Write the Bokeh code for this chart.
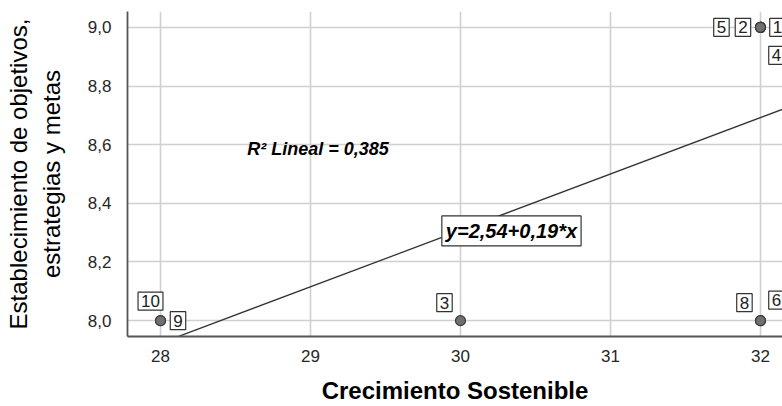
import numpy as np
from bokeh.plotting import figure
from bokeh.models import Label, Range1d, FixedTicker, CustomJSTickFormatter
from bokeh.embed import file_html
from bokeh.resources import INLINE

# ---- data ----
case_ids = ["1", "2", "3", "4", "5", "6", "7", "8", "9", "10"]
crecimiento = [32, 32, 30, 32, 32, 32, 32, 32, 28, 28]
establecimiento = [9, 9, 8, 9, 9, 8, 9, 8, 8, 8]
x_ticks = [28, 29, 30, 31, 32]
y_ticks = [8.0, 8.2, 8.4, 8.6, 8.8, 9.0]
x_title = "Crecimiento Sostenible"
y_title = "Establecimiento de objetivos,\nestrategias y metas"

# label placement (screen pixel offsets from each point); case 7 label is hidden
label_offsets = {
    "1": (17, 0), "2": (-17.5, 0), "3": (-16, 18), "4": (16, -28),
    "5": (-39, 0), "6": (16, 20.5), "8": (-16, 18), "9": (17.5, 0),
    "10": (-10, 19.5),
}

FONT = "Liberation Sans"

x0, x1 = 27.78, 32.147
y0, y1 = 7.946, 9.054

p = figure(width=782, height=406, output_backend="svg", toolbar_location=None,
           x_range=Range1d(x0, x1), y_range=Range1d(y0, y1),
           min_border_left=127, min_border_right=0, min_border_top=11,
           min_border_bottom=67)
p.outline_line_color = None
p.background_fill_color = "white"

# grid
for g in (p.xgrid, p.ygrid):
    g.grid_line_color = "#d0d0d0"
    g.grid_line_width = 1.6
p.xgrid.ticker = FixedTicker(ticks=x_ticks)
p.ygrid.ticker = FixedTicker(ticks=y_ticks)

# axes
p.xaxis.ticker = FixedTicker(ticks=x_ticks)
p.yaxis.ticker = FixedTicker(ticks=y_ticks)
p.yaxis.formatter = CustomJSTickFormatter(code="return tick.toFixed(1).replace('.', ',');")
for ax in (p.xaxis, p.yaxis):
    ax.axis_line_color = "#555555"
    ax.axis_line_width = 1.8
    ax.major_tick_line_color = None
    ax.minor_tick_line_color = None
    ax.major_label_text_font = FONT
    ax.major_label_text_font_size = "17px"
    ax.major_label_text_color = "#262626"
    ax.axis_label_text_font = FONT
    ax.axis_label_text_color = "#000000"
p.xaxis.major_label_standoff = 7
p.yaxis.major_label_standoff = 10
p.xaxis.axis_label = x_title
p.xaxis.axis_label_text_font_size = "24px"
p.xaxis.axis_label_text_font_style = "bold"
p.xaxis.axis_label_standoff = 12
p.yaxis.axis_label = y_title
p.yaxis.axis_label_text_font_size = "24px"
p.yaxis.axis_label_text_font_style = "normal"
p.yaxis.axis_label_standoff = 20

# linear fit computed from the data
xa = np.array(crecimiento, dtype=float)
ya = np.array(establecimiento, dtype=float)
slope, intercept = np.polyfit(xa, ya, 1)
r2 = np.corrcoef(xa, ya)[0, 1] ** 2
fx = np.array([x0, x1])
p.line(fx, intercept + slope * fx, line_color="#333333", line_width=1.3)

# points
p.scatter(crecimiento, establecimiento, size=10, fill_color="#707070",
          line_color="#3a3a3a", line_width=1.2)

# case labels
for cid, cx, cy in zip(case_ids, crecimiento, establecimiento):
    if cid not in label_offsets:
        continue
    dx, dy = label_offsets[cid]
    p.add_layout(Label(x=cx, y=cy, x_offset=dx, y_offset=dy, text=cid,
                       text_font=FONT, text_font_size="17px", text_color="#222222",
                       text_align="center", text_baseline="middle",
                       background_fill_color="white", border_line_color="#333333",
                       border_line_width=1.2, padding=3))

# fit annotations
eq_text = ("y=%.2f+%.2f*x" % (intercept, slope)).replace(".", ",")
p.add_layout(Label(x=30.34, y=8.306, text=eq_text, text_font=FONT,
                   text_font_size="20px", text_font_style="bold italic",
                   text_color="#000000",
                   text_align="center", text_baseline="middle",
                   background_fill_color="white", border_line_color="#333333",
                   border_line_width=1.2, padding=4))
r2_text = ("R\u00b2 Lineal = %.3f" % r2).replace(".", ",")
p.add_layout(Label(x=29.05, y=8.584, text=r2_text, text_font=FONT,
                   text_font_size="18px", text_font_style="bold italic",
                   text_color="#000000",
                   text_align="center", text_baseline="middle"))

open("out.html", "w").write(file_html(p, INLINE))
